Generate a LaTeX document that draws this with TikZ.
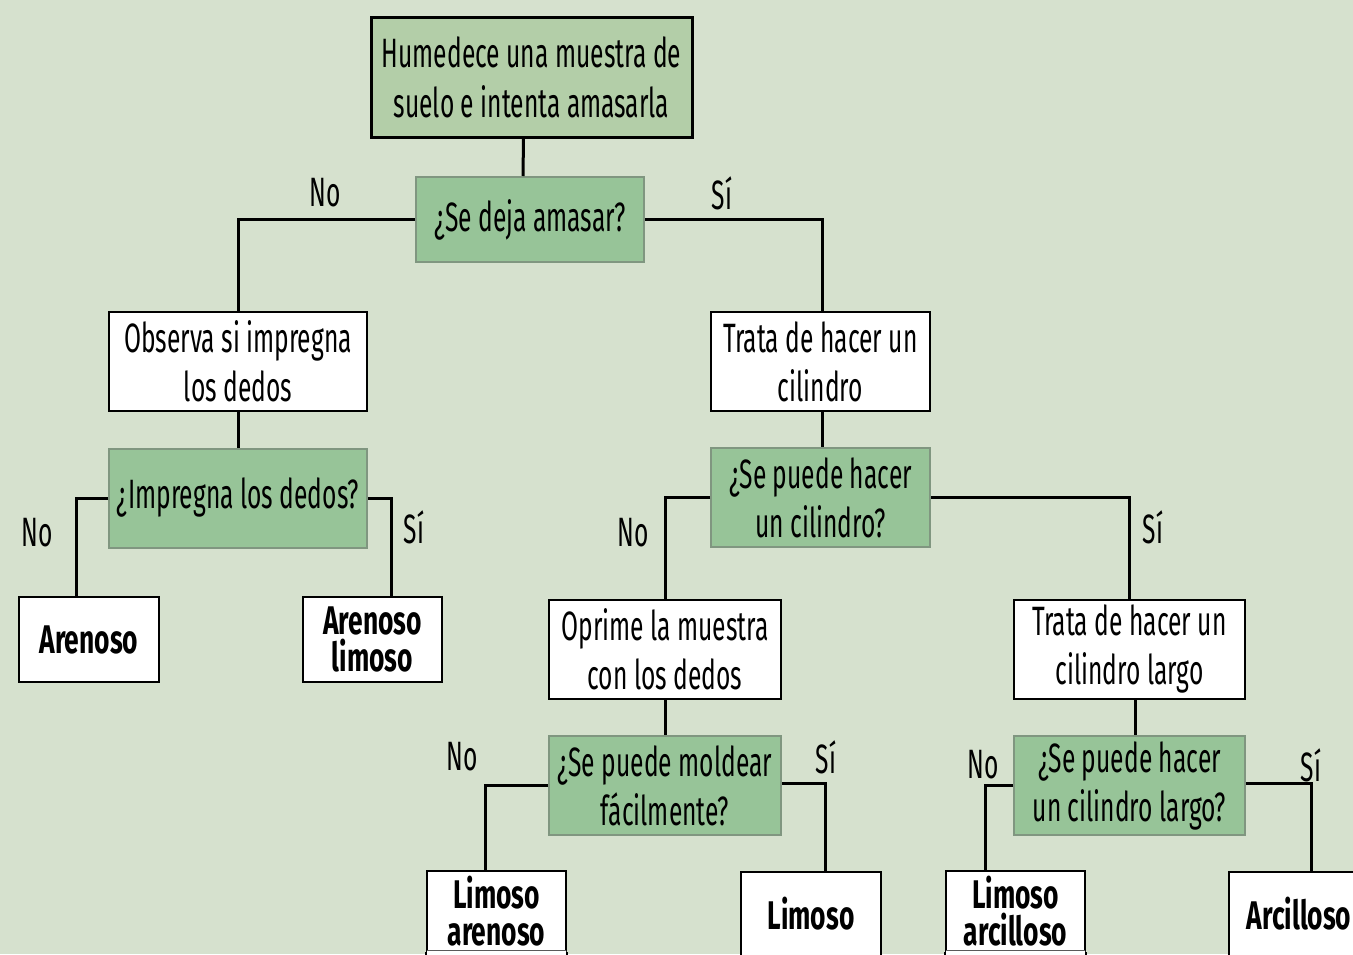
\documentclass[tikz,border=0pt]{standalone}
\usepackage{fontspec}
\setmainfont[FakeStretch=0.6,BoldFeatures={FakeStretch=0.66}]{Fira Sans}
\usetikzlibrary{positioning}
\definecolor{SageBack}{RGB}{214,225,206}
\definecolor{PaleGreen}{RGB}{179,206,168}
\definecolor{MidGreen}{RGB}{151,196,152}
\definecolor{GreenEdge}{RGB}{128,150,128}
\tikzset{
  topbox/.style={draw=black,line width=3pt,fill=PaleGreen,
    minimum width=321pt,minimum height=120pt,align=center,inner xsep=3pt,
    font=\fontsize{41}{50}\selectfont},
  askbox/.style={draw=GreenEdge,line width=2pt,fill=MidGreen,inner xsep=3pt,
    minimum height=99pt,align=center,font=\fontsize{41}{49}\selectfont},
  stepbox/.style={draw=black,line width=2pt,fill=white,inner xsep=3pt,
    minimum height=99pt,align=center,font=\fontsize{41}{49}\selectfont},
  endbox/.style={draw=black,line width=2pt,fill=white,inner xsep=3pt,
    minimum width=140pt,minimum height=84pt,align=center,
    font=\fontsize{40}{37}\selectfont\bfseries},
  link/.style={draw=black,line width=3pt},
  lbl/.style={font=\fontsize{41}{49}\selectfont,inner sep=0pt},
}

\begin{document}
\begin{tikzpicture}[x=1pt,y=1pt]
  \useasboundingbox (0,0) rectangle (1353,-954);
  \clip (0,0) rectangle (1353,-954);
  \fill[SageBack] (0,0) rectangle (1353,-954);
  % first question
  \node[topbox] (wet) at (531.5,-77) {Humedece una muestra de\\suelo e intenta amasarla};
  \node[askbox,minimum width=228pt,minimum height=85pt] (knead) at (530,-219.5) {¿Se deja amasar?};
  % left branch
  \node[stepbox,minimum width=258pt] (observe) at (238,-361.5) {Observa si impregna\\los dedos};
  \node[askbox,minimum width=258pt] (stain) at (238,-498) {¿Impregna los dedos?};
  \node[endbox,minimum height=85pt] (sandy) at (89,-639.5) {Arenoso};
  \node[endbox,minimum width=139pt,minimum height=85pt] (sandsilt) at (372.5,-639.5) {Arenoso\\limoso};
  % right branch
  \node[stepbox,minimum width=219pt] (roll) at (820.5,-361.5) {Trata de hacer un\\cilindro};
  \node[askbox,minimum width=219pt] (rollq) at (820.5,-497.5) {¿Se puede hacer\\un cilindro?};
  \node[stepbox,minimum width=232pt] (press) at (665,-649) {Oprime la muestra\\con los dedos};
  \node[askbox,minimum width=232pt] (mould) at (665,-785.5) {¿Se puede moldear\\fácilmente?};
  \node[stepbox,minimum width=231pt] (longroll) at (1129.5,-649) {Trata de hacer un\\cilindro largo};
  \node[askbox,minimum width=231pt] (longq) at (1129.5,-785.5) {¿Se puede hacer\\un cilindro largo?};
  \node[endbox,minimum width=139pt,minimum height=80pt] (siltsand) at (496.5,-911) {Limoso\\arenoso};
  \node[endbox] (silty) at (811,-914) {Limoso};
  \node[endbox,minimum width=139pt,minimum height=80pt] (siltclay) at (1015.5,-911) {Limoso\\arcilloso};
  \node[endbox] (clayey) at (1299,-914) {Arcilloso};

  \draw[link] ([xshift=-8pt]wet.south) -- ([xshift=-7pt]knead.north);
  \draw[link] (knead.west) -| (observe.north);
  \draw[link] (knead.east) -| ([xshift=1.5pt]roll.north);
  \draw[link] (observe) -- (stain);
  \draw[link] (stain.west) -| ([xshift=-13pt]sandy.north);
  \draw[link] (stain.east) -| ([xshift=18.5pt]sandsilt.north);
  \draw[link] ([xshift=1.5pt]roll.south) -- ([xshift=1.5pt]rollq.north);
  \draw[link] (rollq.west) -| (press.north);
  \draw[link] (rollq.east) -| (longroll.north);
  \draw[link] (press) -- (mould);
  \draw[link] (mould.west) -| ([xshift=-11.5pt]siltsand.north);
  \draw[link] ([yshift=2pt]mould.east) -| ([xshift=14pt]silty.north);
  \draw[link] ([xshift=5.5pt]longroll.south) -- ([xshift=5.5pt]longq.north);
  \draw[link] (longq.west) -| ([xshift=-30.5pt]siltclay.north);
  \draw[link] ([yshift=2pt]longq.east) -| ([xshift=12pt]clayey.north);
  % boxes run on past the lower edge
  \fill[white] ([xshift=1pt,yshift=1.5pt]siltsand.south west) rectangle ([xshift=-1pt,yshift=-10pt]siltsand.south east)
    ([xshift=1pt,yshift=1.5pt]siltclay.south west) rectangle ([xshift=-1pt,yshift=-10pt]siltclay.south east);
  \draw[draw=black,line width=2pt] (siltsand.south west) -- ++(0,-10) (siltsand.south east) -- ++(0,-10)
    (siltclay.south west) -- ++(0,-10) (siltclay.south east) -- ++(0,-10);

  % answers
  \node[lbl] (no1) at (325,-193) {No};
  \node[lbl] (yes1) at (722,-193) {Sí};
  \node[lbl] (no2) at (37,-533) {No};
  \node[lbl] (yes2) at (414,-527) {Sí};
  \node[lbl] (no3) at (633,-533) {No};
  \node[lbl] (yes3) at (1153,-527) {Sí};
  \node[lbl] (no4) at (462,-757) {No};
  \node[lbl] (yes4) at (826,-757) {Sí};
  \node[lbl] (no5) at (983,-765) {No};
  \node[lbl] (yes5) at (1311,-765) {Sí};
\end{tikzpicture}
\end{document}
